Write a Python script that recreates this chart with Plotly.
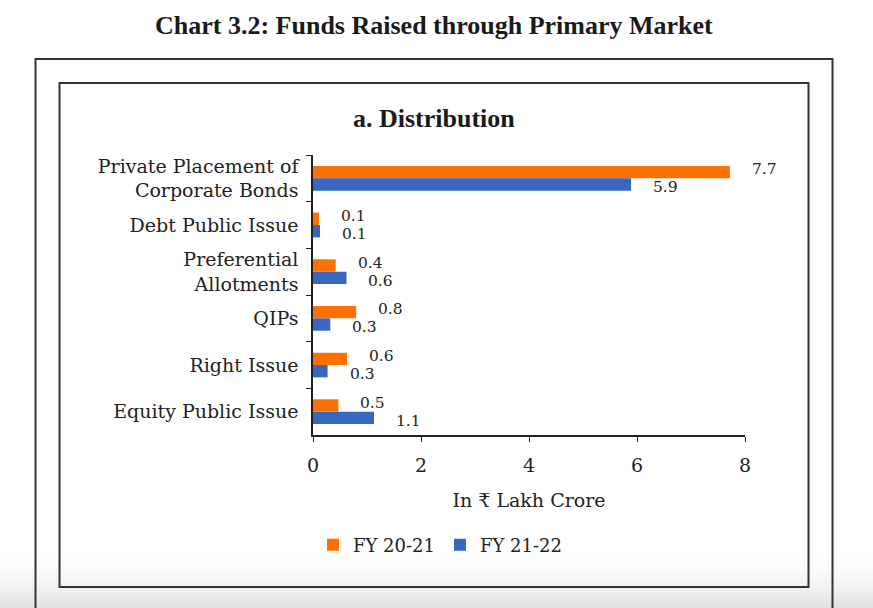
import plotly.graph_objects as go

# ---- data ----
categories = [
    "Private Placement of<br>Corporate Bonds",
    "Debt Public Issue",
    "Preferential<br>Allotments",
    "QIPs",
    "Right Issue",
    "Equity Public Issue",
]
fy_20_21 = [7.72, 0.11, 0.42, 0.80, 0.63, 0.47]
fy_21_22 = [5.89, 0.13, 0.62, 0.32, 0.27, 1.13]
series_names = ["FY 20-21", "FY 21-22"]
x_ticks = [0, 2, 4, 6, 8]

ORANGE = "#FF7000"
BLUE = "#3A66BE"
TXT = "#222222"
SERIF = "DejaVu Serif"
BOLD_SERIF = "Liberation Serif"

W, H = 873, 608
L, R, T, B = 313, 745, 155, 435  # plot area in px


def px_x(p):
    return (p - L) / (R - L)


def px_y(p):
    return (B - p) / (B - T)


fig = go.Figure()
fig.add_trace(go.Bar(y=categories, x=fy_20_21, orientation="h", name=series_names[0],
                     marker=dict(color=ORANGE, line=dict(width=0))))
fig.add_trace(go.Bar(y=categories, x=fy_21_22, orientation="h", name=series_names[1],
                     marker=dict(color=BLUE, line=dict(width=0))))

annotations = []
for vals, ys in ((fy_20_21, 9), (fy_21_22, -9)):
    for c, v in zip(categories, vals):
        annotations.append(dict(x=v, y=c, xref="x", yref="y", text=f"{v:.1f}",
                                showarrow=False, xanchor="left", yanchor="middle",
                                xshift=21, yshift=ys, borderpad=0,
                                font=dict(family=SERIF, size=15.5, color=TXT)))

annotations.append(dict(x=px_x(434), y=px_y(25), xref="paper", yref="paper",
                        text="<b>Chart 3.2: Funds Raised through Primary Market</b>",
                        showarrow=False, xanchor="center", yanchor="middle",
                        font=dict(family=BOLD_SERIF, size=26, color="#1a1a1a")))
annotations.append(dict(x=px_x(434), y=px_y(118), xref="paper", yref="paper",
                        text="<b>a. Distribution</b>",
                        showarrow=False, xanchor="center", yanchor="middle",
                        font=dict(family=BOLD_SERIF, size=26, color="#1a1a1a")))

shapes = []
# bottom grey gradient
n = 18
y0 = 556
for i in range(n):
    a = y0 + (H + 2 - y0) * i / n
    b = y0 + (H + 2 - y0) * (i + 1) / n
    t = (i + 1) / n
    g = int(255 - 30 * t ** 1.6)
    shapes.append(dict(type="rect", xref="paper", yref="paper",
                       x0=px_x(-5), x1=px_x(W + 5), y0=px_y(b), y1=px_y(a),
                       fillcolor=f"rgb({g},{g},{g})", line=dict(width=0), layer="below"))
# outer box (open at bottom)
shapes.append(dict(type="path", xref="paper", yref="paper",
                   path=f"M {px_x(35.5)},{px_y(H + 5)} L {px_x(35.5)},{px_y(59)} "
                        f"L {px_x(832.5)},{px_y(59)} L {px_x(832.5)},{px_y(H + 5)}",
                   line=dict(color="#333333", width=2), layer="below"))
# inner box
shapes.append(dict(type="rect", xref="paper", yref="paper",
                   x0=px_x(59.5), x1=px_x(808.5), y0=px_y(587), y1=px_y(83),
                   line=dict(color="#333333", width=2), layer="below"))

fig.update_layout(
    width=W, height=H,
    margin=dict(l=L, r=W - R, t=T, b=H - B, pad=0),
    paper_bgcolor="white", plot_bgcolor="rgba(0,0,0,0)",
    barmode="group", bargap=0.47, bargroupgap=0,
    font=dict(family=SERIF, color=TXT),
    showlegend=True,
    legend=dict(orientation="h", x=0.0, y=px_y(545), xanchor="left", yanchor="middle",
                font=dict(family=SERIF, size=18, color=TXT), bgcolor="rgba(0,0,0,0)"),
    annotations=annotations,
    shapes=shapes,
    xaxis=dict(range=[0, 8], tickvals=x_ticks, ticks="outside", ticklen=5,
               tickcolor="#222", showline=True, linecolor="#222", linewidth=1.5,
               showgrid=False, zeroline=False, ticklabelstandoff=7,
               tickfont=dict(family=SERIF, size=19, color=TXT),
               title=dict(text="In ₹ Lakh Crore", standoff=19,
                          font=dict(family=SERIF, size=19, color=TXT))),
    yaxis=dict(autorange="reversed", ticks="outside", ticklen=5, tickson="boundaries",
               tickcolor="#222", showline=True, linecolor="#222", linewidth=1.5,
               showgrid=False, zeroline=False, ticklabelstandoff=9,
               tickfont=dict(family=SERIF, size=19, color=TXT)),
)

fig.write_html("out.html", config={"displayModeBar": False},
               post_script="document.body.style.margin='0';document.body.style.overflow='hidden';")
